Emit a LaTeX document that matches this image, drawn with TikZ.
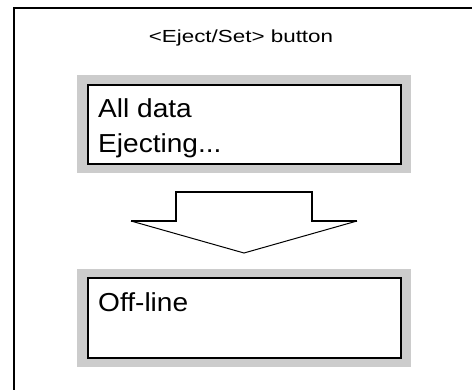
\documentclass[tikz,border=0pt]{standalone}
\usepackage{fontspec}
\setmainfont{Liberation Sans}
\newfontfamily\titlefont[FakeStretch=1.28]{Liberation Sans}
\newfontfamily\boxfont[FakeStretch=1.08]{Liberation Sans}
\definecolor{panelgray}{HTML}{CCCCCC}
\tikzset{
  grayframe/.style={fill=panelgray, draw=none, inner sep=0pt, outer sep=0pt, minimum width=334pt, minimum height=98pt},
  screen/.style={fill=white, draw=black, line width=2pt, inner sep=0pt, outer sep=0pt, minimum width=313pt, minimum height=79.5pt},
  screentext/.style={anchor=base west, inner sep=0pt, font=\boxfont\fontsize{26}{30}\selectfont},
  titletext/.style={anchor=base, inner sep=0pt, font=\titlefont\fontsize{17.5}{21}\selectfont},
  frameline/.style={line width=2pt},
  arrowthick/.style={line width=1.8pt, line join=miter},
  arrowthin/.style={line width=1pt}
}
\begin{document}
\begin{tikzpicture}[x=1pt,y=-1pt]
\useasboundingbox (0,0) rectangle (472,389);
% outer frame (top and left only)
\coordinate (fr) at (473,8);
\coordinate (fc) at (14,8);
\coordinate (fb) at (14,390);
\draw[frameline] (fr) -- (fc) -- (fb);
% title
\node[titletext] (title) at (241,42) {<Eject/Set> button};
% top screen
\node[grayframe] (g1) at (244,124) {};
\node[screen] (s1) at (244.5,124.7) {};
\node[screentext] (t1a) at (98,117) {All data};
\node[screentext] (t1b) at (98,152) {Ejecting...};
% arrow
\coordinate (al) at (131,221);
\coordinate (sl) at (176,221);
\coordinate (tl) at (176,192);
\coordinate (tr) at (312,192);
\coordinate (sr) at (312,221);
\coordinate (ar) at (357,221);
\coordinate (tip) at (244,253);
\draw[arrowthick] (al) -- (sl) -- (tl) -- (tr) -- (sr) -- (ar);
\draw[arrowthin] (ar) -- (tip) -- (al);
% bottom screen
\node[grayframe] (g2) at (244,318) {};
\node[screen] (s2) at (244.5,318) {};
\node[screentext] (t2) at (98,311) {Off-line};
\end{tikzpicture}
\end{document}
